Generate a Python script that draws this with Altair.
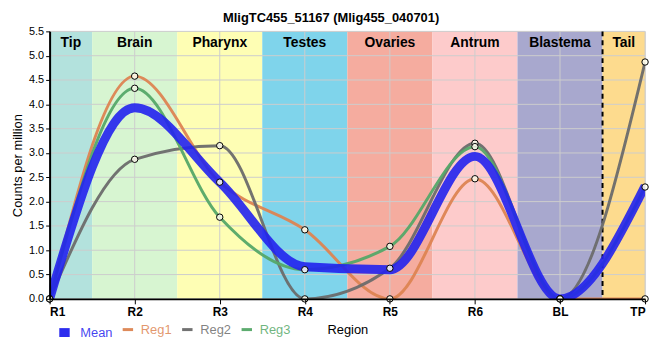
import altair as alt
import pandas as pd

# ---- data ----
categories = ["R1", "R2", "R3", "R4", "R5", "R6", "BL", "TP"]
mean_vals = [0.0, 3.93, 2.40, 0.66, 0.60, 2.93, 0.0, 2.32]
reg1_vals = [0.0, 4.58, 2.40, 1.42, 0.0, 2.47, 0.0, 0.0]
reg2_vals = [0.0, 2.87, 3.15, 0.0, 0.63, 3.20, 0.0, 4.87]
reg3_vals = [0.0, 4.33, 1.68, 0.60, 1.08, 3.13, 0.0, 2.30]

series_names = ["Mean", "Reg1", "Reg2", "Reg3"]
series_colors = ["#2222ee", "#dd8452", "#6b6b6b", "#55a868"]
series_widths = [9, 3, 3, 3]

region_names = ["Tip", "Brain", "Pharynx", "Testes", "Ovaries", "Antrum", "Blastema", "Tail"]
region_start = [0, 0.5, 1.5, 2.5, 3.5, 4.5, 5.5, 6.5]
region_end = [0.5, 1.5, 2.5, 3.5, 4.5, 5.5, 6.5, 7]
region_colors = ["#b3e2dd", "#d7f5d1", "#fefeb4", "#7fd4eb",
                 "#f5ac9f", "#fdcbcb", "#a8a8ce", "#fddb8e"]

y_ticks = [0.0, 0.5, 1.0, 1.5, 2.0, 2.5, 3.0, 3.5, 4.0, 4.5, 5.0, 5.5]

FONT = "Liberation Sans, Arial, sans-serif"

# ---- tables ----
rows = []
for name, vals in zip(series_names, [mean_vals, reg1_vals, reg2_vals, reg3_vals]):
    for i, (c, v) in enumerate(zip(categories, vals)):
        rows.append({"series": name, "idx": i, "cat": c, "value": v})
df = pd.DataFrame(rows)

regions = pd.DataFrame({"region": region_names, "start": region_start,
                        "end": region_end, "color": region_colors})
ygrid = pd.DataFrame({"y": y_ticks})
xgrid = pd.DataFrame({"x": list(range(len(categories)))})
tail_line = pd.DataFrame({"x": [region_start[-1]]})

label_js = "[" + ",".join("'%s'" % c for c in categories) + "]"

xscale = alt.Scale(domain=[0, len(categories) - 1], nice=False, zero=False)
yscale = alt.Scale(domain=[0, 5.5], nice=False)

x_axis = alt.Axis(values=list(range(len(categories))), labelExpr=label_js + "[datum.value]",
                  grid=False, title="Region", tickSize=5, tickColor="black",
                  domainColor="black", domainWidth=2, labelFont=FONT, labelFontSize=12,
                  labelFontWeight="bold", labelColor="black", labelPadding=3,
                  titleFont=FONT, titleFontSize=13, titleFontWeight="normal",
                  titleColor="black", titleY=31, titleBaseline="middle",
                  zindex=1)
y_axis = alt.Axis(values=y_ticks, format=".1f", grid=False, title="Counts per million",
                  tickSize=4, tickColor="black", domainColor="black", domainWidth=2,
                  labelFont=FONT, labelFontSize=11, labelColor="black", labelPadding=2,
                  titleFont=FONT, titleFontSize=13, titleFontWeight="normal",
                  titleColor="black", titleX=-32, titleBaseline="middle", zindex=1)


def X(field):
    return alt.X(field, scale=xscale, axis=x_axis)


def Y(field):
    return alt.Y(field, scale=yscale, axis=y_axis)


bands = alt.Chart(regions).mark_rect().encode(
    x=X("start:Q"),
    x2="end:Q",
    y=alt.value(0),
    y2=alt.value(270),
    fill=alt.Fill("color:N", scale=None),
)

hgrid = alt.Chart(ygrid).mark_rule(color="#cccccc", strokeWidth=1).encode(y=Y("y:Q"))
vgrid = alt.Chart(xgrid).mark_rule(color="#cccccc", strokeWidth=1).encode(x=X("x:Q"))

dash = alt.Chart(tail_line).mark_rule(color="black", strokeWidth=2, strokeDash=[5, 4]).encode(
    x=X("x:Q")
)

legend = alt.Legend(
    title=None, orient="none", legendX=3, legendY=292, direction="horizontal",
    symbolType="M-0.7,0H0.7", symbolSize=225, labelFont=FONT, labelFontSize=13,
    columnPadding=3, labelOffset=4, gridAlign="none", labelBaseline="middle",
    labelColor=alt.ExprRef(expr="scale('color', datum.value)"), labelOpacity=0.85,
)

color_enc = alt.Color("series:N", scale=alt.Scale(domain=series_names, range=series_colors),
                      legend=legend)
width_enc = alt.StrokeWidth("series:N",
                            scale=alt.Scale(type="ordinal", domain=series_names,
                                            range=series_widths),
                            legend=legend)

reg_lines = alt.Chart(df).transform_filter("datum.series != 'Mean'").mark_line(
    interpolate="monotone", clip=True, opacity=0.95, strokeCap="butt"
).encode(
    x=X("idx:Q"),
    y=Y("value:Q"),
    color=color_enc,
    strokeWidth=width_enc,
    detail="series:N",
)

mean_line = alt.Chart(df).transform_filter("datum.series == 'Mean'").mark_line(
    interpolate="monotone", clip=True, opacity=0.9, strokeCap="butt"
).encode(
    x=X("idx:Q"),
    y=Y("value:Q"),
    color=color_enc,
    strokeWidth=width_enc,
)

points = alt.Chart(df).transform_filter("datum.series != 'Mean'").mark_point(
    shape="circle", size=42, filled=False, stroke="black", strokeWidth=1,
    fill="#fffff0", fillOpacity=0.85, opacity=1
).encode(
    x=X("idx:Q"),
    y=Y("value:Q"),
)

labels = alt.Chart(regions).transform_calculate(
    mid="(datum.start + datum.end) / 2"
).mark_text(font=FONT, fontSize=14, fontWeight="bold", color="black", baseline="middle").encode(
    x=X("mid:Q"),
    y=alt.value(12),
    text="region:N",
)

chart = alt.layer(bands, hgrid, vgrid, dash, reg_lines, mean_line, points, labels).properties(
    width=601, height=270,
    autosize=alt.AutoSizeParams(type="none"),
    padding={"left": 42, "top": 22, "right": 7, "bottom": 50},
    title=alt.Title("MligTC455_51167 (Mlig455_040701)", font=FONT, fontSize=13,
                    fontWeight="bold", color="black", anchor="middle", frame="bounds", offset=0),
).configure_view(stroke="black", strokeWidth=2).configure(background="white")

chart.save("out.html", embed_options={"renderer": "svg", "actions": False})
